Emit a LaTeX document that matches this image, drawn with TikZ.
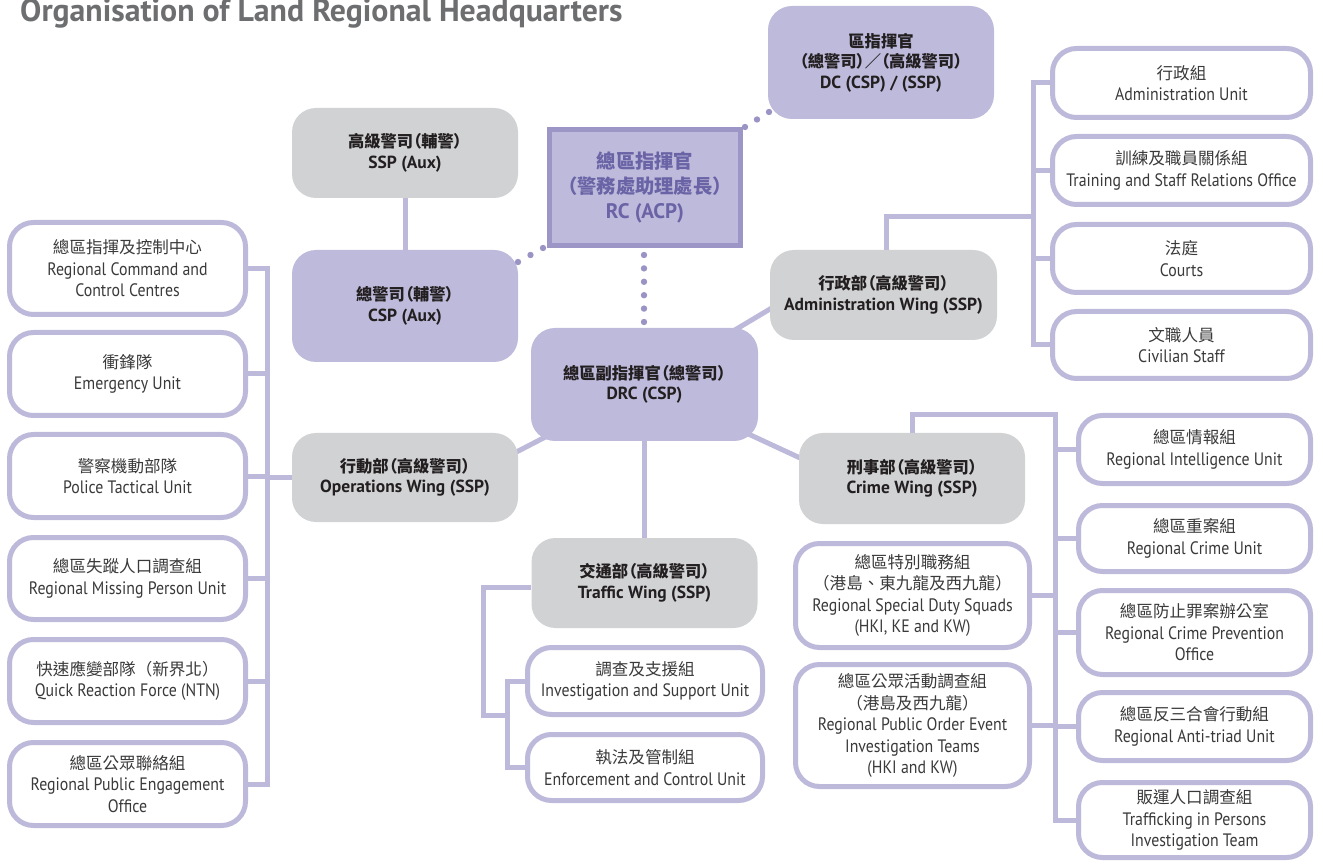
\documentclass[tikz,border=0pt]{standalone}
\usepackage{fontspec}
\setmainfont[FakeStretch=0.88]{PT Sans}
\newfontfamily\cjk[Scale=0.92]{Noto Sans CJK TC}
\newfontfamily\cjkh[Scale=0.93,RawFeature=+palt]{Noto Sans CJK TC}
\newfontfamily\titlef{PT Sans}
\usetikzlibrary{backgrounds,calc}
\newcommand{\zh}[1]{{\cjk #1}}
\newcommand{\zhh}[1]{{\cjkh #1}}
\definecolor{purpleF}{HTML}{BDBADB}
\definecolor{purpleL}{HTML}{BDB9DA}
\definecolor{greyF}{HTML}{D1D2D4}
\definecolor{rcborder}{HTML}{9C96C6}
\definecolor{rctext}{HTML}{6A63A6}
\definecolor{dotc}{HTML}{9A94C5}
\definecolor{bodytext}{HTML}{3A3A3A}
\definecolor{headtext}{HTML}{231F20}
\definecolor{titlec}{HTML}{6D6E70}
\tikzset{
  headfont/.style={font=\titlef\bfseries\fontsize{17.5pt}{20.5pt}\selectfont, text=headtext},
  pbox/.style={headfont, rounded corners=24pt, fill=purpleF, inner sep=0pt, align=center},
  gbox/.style={headfont, rounded corners=24pt, fill=greyF, inner sep=0pt, align=center},
  wbox/.style={font=\fontsize{18pt}{21.5pt}\selectfont, text=bodytext, rounded corners=24pt,
     draw=purpleL, line width=5pt, fill=white, inner sep=0pt, align=center},
  rcbox/.style={font=\titlef\bfseries\fontsize{21pt}{25pt}\selectfont, text=rctext, fill=purpleF,
     draw=rcborder, line width=5pt, inner sep=0pt, align=center},
  conn/.style={draw=purpleL, line width=5pt, line join=miter},
}
\begin{document}
\begin{tikzpicture}[x=1pt,y=-1pt]
\useasboundingbox (0,0) rectangle (1323,866);
% title
\node[anchor=base west, inner sep=0pt, font=\titlef\bfseries\fontsize{31.8pt}{34pt}\selectfont, text=titlec] (title) at (20,22) {Organisation of Land Regional Headquarters};

% top-level boxes
\node[pbox, minimum width=226pt, minimum height=113pt] (dc) at (881,62.5) {\zhh{區指揮官}\\\zhh{（總警司）／（高級警司）}\\DC (CSP) / (SSP)};
\node[gbox, minimum width=226pt, minimum height=90pt] (sspaux) at (405,153) {\zhh{高級警司（輔警）}\\SSP (Aux)};
\node[rcbox, minimum width=191pt, minimum height=116pt] (rc) at (645,187.5) {\zh{總區指揮官}\\\zh{（警務處助理處長）}\\RC (ACP)};
\node[pbox, minimum width=226pt, minimum height=112pt] (cspaux) at (405,306) {\zhh{總警司（輔警）}\\CSP (Aux)};
\node[gbox, minimum width=227pt, minimum height=90pt] (adminw) at (883.5,295) {\zhh{行政部（高級警司）}\\Administration Wing (SSP)};
\node[pbox, minimum width=227pt, minimum height=113pt] (drc) at (644.5,384.5) {\zhh{總區副指揮官（總警司）}\\DRC (CSP)};
\node[gbox, minimum width=226pt, minimum height=89pt] (ops) at (405,477.5) {\zhh{行動部（高級警司）}\\Operations Wing (SSP)};
\node[gbox, minimum width=226pt, minimum height=91pt] (crime) at (912,478.5) {\zhh{刑事部（高級警司）}\\Crime Wing (SSP)};
\node[gbox, minimum width=226pt, minimum height=90pt] (traffic) at (644.5,583) {\zhh{交通部（高級警司）}\\Traffic Wing (SSP)};

% administration column
\node[wbox, minimum width=258pt, minimum height=69pt] (au) at (1181.5,83) {\zh{行政組}\\Administration Unit};
\node[wbox, minimum width=258pt, minimum height=68pt] (tsro) at (1181.5,170.5) {\zh{訓練及職員關係組}\\Training and Staff Relations Office};
\node[wbox, minimum width=258pt, minimum height=68pt] (courts) at (1181.5,258.5) {\zh{法庭}\\Courts};
\node[wbox, minimum width=258pt, minimum height=67pt] (civ) at (1181.5,345) {\zh{文職人員}\\Civilian Staff};

% operations column
\node[wbox, minimum width=236pt, minimum height=92pt] (rccc) at (127.5,268.5) {\zh{總區指揮及控制中心}\\Regional Command and\\Control Centres};
\node[wbox, minimum width=236pt, minimum height=83pt] (eu) at (127.5,374) {\zh{衝鋒隊}\\Emergency Unit};
\node[wbox, minimum width=236pt, minimum height=83pt] (ptu) at (127.5,476) {\zh{警察機動部隊}\\Police Tactical Unit};
\node[wbox, minimum width=236pt, minimum height=82pt] (rmpu) at (127.5,578.5) {\zh{總區失蹤人口調查組}\\Regional Missing Person Unit};
\node[wbox, minimum width=236pt, minimum height=83pt] (qrf) at (127.5,681) {\zh{快速應變部隊（新界北）}\\Quick Reaction Force (NTN)};
\node[wbox, minimum width=236pt, minimum height=83pt] (rpeo) at (127.5,784) {\zh{總區公眾聯絡組}\\Regional Public Engagement\\Office};

% traffic column
\node[wbox, minimum width=235pt, minimum height=67pt] (isu) at (645,681) {\zh{調查及支援組}\\Investigation and Support Unit};
\node[wbox, minimum width=235pt, minimum height=66pt] (ecu) at (645,767.5) {\zh{執法及管制組}\\Enforcement and Control Unit};

% crime columns
\node[wbox, minimum width=234pt, minimum height=104pt] (rsds) at (912.5,595.5) {\zh{總區特別職務組}\\\zh{（港島、東九龍及西九龍）}\\Regional Special Duty Squads\\(HKI, KE and KW)};
\node[wbox, minimum width=234pt, minimum height=122pt] (rpoe) at (912.5,725.5) {\zh{總區公眾活動調查組}\\\zh{（港島及西九龍）}\\Regional Public Order Event\\Investigation Teams\\(HKI and KW)};
\node[wbox, minimum width=232pt, minimum height=68pt] (riu) at (1194.5,449.5) {\zh{總區情報組}\\Regional Intelligence Unit};
\node[wbox, minimum width=232pt, minimum height=66pt] (rcu) at (1194.5,538.5) {\zh{總區重案組}\\Regional Crime Unit};
\node[wbox, minimum width=232pt, minimum height=84pt] (rcpo) at (1194.5,632.5) {\zh{總區防止罪案辦公室}\\Regional Crime Prevention\\Office};
\node[wbox, minimum width=232pt, minimum height=68pt] (ratu) at (1194.5,726.5) {\zh{總區反三合會行動組}\\Regional Anti-triad Unit};
\node[wbox, minimum width=232pt, minimum height=75pt] (tip) at (1194.5,820) {\zh{販運人口調查組}\\Trafficking in Persons\\Investigation Team};

% bus coordinates
\coordinate (abus) at (1033,217);
\coordinate (lbus) at (267,0);
\coordinate (tcorner) at (483,715);
\coordinate (tbus) at (507,0);
\coordinate (cbus) at (1055,415);

\begin{pgfonlayer}{background}
% main structure
\draw[conn] (sspaux.south) -- (cspaux.north);
\draw[conn] (drc.south) -- (traffic.north);
\draw[conn] ([xshift=-33pt,yshift=-8pt]drc.north east) -- ([xshift=20pt,yshift=43pt]adminw.south west);
\draw[conn] ([xshift=20pt,yshift=7pt]drc.south west) -- ([xshift=-13pt,yshift=-25pt]ops.north east);
\draw[conn] ([xshift=-18pt,yshift=11pt]drc.south east) -- ([xshift=16pt,yshift=-32pt]crime.north west);

% administration wing
\draw[conn] ([xshift=2.5pt]adminw.north) |- (abus);
\draw[conn] (au.west) -- (au.west -| abus) -- (civ.west -| abus) -- (civ.west);
\draw[conn] (tsro.west) -- (tsro.west -| abus);
\draw[conn] (courts.west) -- (courts.west -| abus);

% operations wing
\draw[conn] (rccc.east) -- (rccc.east -| lbus) -- (rpeo.east -| lbus) -- (rpeo.east);
\foreach \n in {eu,ptu,rmpu,qrf} \draw[conn] (\n.east) -- (\n.east -| lbus);
\draw[conn] (ops.west) -- (ops.west -| lbus);

% traffic wing
\draw[conn] ([yshift=-4pt]traffic.west) -| (tcorner) -- (tcorner -| tbus);
\draw[conn] (isu.west) -- (isu.west -| tbus) -- (ecu.west -| tbus) -- (ecu.west);

% crime wing
\draw[conn] (crime.north) |- (cbus) -- (tip.west -| cbus) -- (tip.west);
\foreach \n in {riu,rcu,rcpo,ratu} \draw[conn] (\n.west) -- (\n.west -| cbus);
\foreach \n in {rsds,rpoe} \draw[conn] (\n.east) -- (\n.east -| cbus);
\end{pgfonlayer}

% dotted links
\coordinate (d1a) at (644,255); \coordinate (d1b) at (644,322);
\foreach \i in {0,...,5} \fill[dotc] ($(d1a)!\i/5!(d1b)$) circle (3.2pt);
\coordinate (d2a) at (543,248); \coordinate (d2b) at (518,262);
\foreach \i in {0,...,2} \fill[dotc] ($(d2a)!\i/2!(d2b)$) circle (3.2pt);
\coordinate (d3a) at (745,127); \coordinate (d3b) at (769,112);
\foreach \i in {0,...,2} \fill[dotc] ($(d3a)!\i/2!(d3b)$) circle (3.2pt);
\end{tikzpicture}
\end{document}
